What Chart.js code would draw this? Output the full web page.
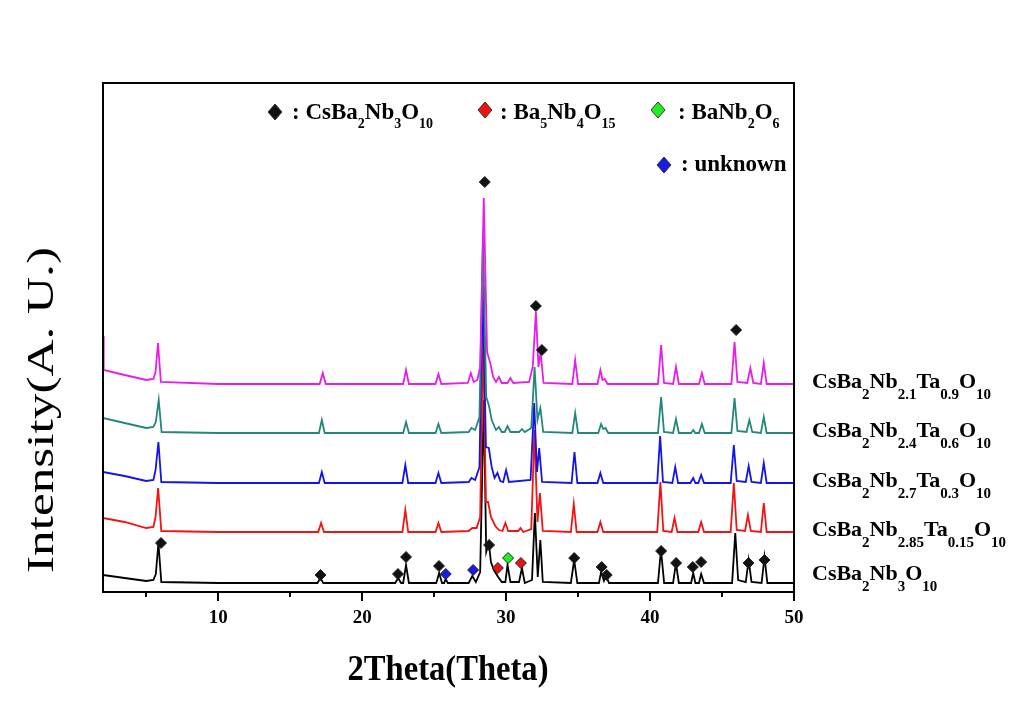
<!DOCTYPE html>
<html>
<head>
<meta charset="utf-8">
<script src="https://cdn.jsdelivr.net/npm/chart.js@4/dist/chart.umd.min.js"></script>
<style>
  html, body { margin: 0; padding: 0; background: #fff; }
</style>
</head>
<body>
<canvas id="xrd" width="1017" height="710"></canvas>
<script>
// Axis range and tick labels (2Theta)
const xMin = 2, xMax = 50;
const xMajorTicks = [10, 20, 30, 40, 50];
const xMinorTicks = [5, 15, 25, 35, 45];

// Samples, top to bottom, with vertical offsets (a.u.)
const sampleNames = [
  'CsBa{2}Nb{2.1}Ta{0.9}O{10}',
  'CsBa{2}Nb{2.4}Ta{0.6}O{10}',
  'CsBa{2}Nb{2.7}Ta{0.3}O{10}',
  'CsBa{2}Nb{2.85}Ta{0.15}O{10}',
  'CsBa{2}Nb{3}O{10}'
];
const sampleColors = ['#e61ee6', '#23877a', '#1414e6', '#f01414', '#000000'];
const sampleOffsets = [200, 150, 100, 50, 0];

// Patterns: [2theta, intensity]
const patternTa09 = [[2,56],[2.05,22],[3.5,17],[5,12],[5.5,13],[5.65,20],[5.82,49],[6.02,10],[10,8],[17.05,8],[17.27,19],[17.47,8],[22.85,8],[23.05,22],[23.25,8],[25.1,8],[25.3,18],[25.5,8],[27.35,9],[27.55,19],[27.75,10],[28,12],[28.2,25],[28.45,194],[28.68,40],[28.9,29],[29.1,15],[29.3,10],[29.5,15],[29.7,9],[30.1,9],[30.3,14],[30.5,9],[31.6,10],[31.85,25],[32.07,80],[32.25,25],[32.4,40],[32.6,9],[34.6,8],[34.8,32],[35,8],[36.35,8],[36.55,22],[36.7,12],[36.85,13],[37.05,8],[40.55,8],[40.77,47],[40.97,9],[41.6,8],[41.8,25],[42,8],[43.4,8],[43.6,19],[43.8,8],[45.65,8],[45.87,50],[46.07,10],[46.75,9],[46.97,24],[47.17,9],[47.7,8],[47.9,29],[48.1,8],[50,8]];
const patternTa06 = [[2,24],[3.5,19],[5,14],[5.5,15],[5.67,20],[5.87,42],[6.07,10],[10,9],[17,9],[17.2,22],[17.4,9],[22.85,9],[23.05,20],[23.25,9],[25.1,9],[25.3,18],[25.5,9],[27.4,10],[27.6,14],[27.85,12],[28.15,25],[28.4,207],[28.62,45],[28.8,37],[29,22],[29.3,12],[29.5,15],[29.7,10],[29.9,10],[30.1,16],[30.3,10],[30.9,10],[31.1,13],[31.3,10],[31.75,14],[31.98,75],[32.18,22],[32.38,34],[32.58,10],[34.6,9],[34.8,29],[35,9],[36.4,9],[36.6,18],[36.75,13],[36.9,14],[37.1,9],[40.55,9],[40.77,45],[40.97,10],[41.6,9],[41.8,23],[42,9],[42.85,9],[43,12],[43.15,9],[43.4,9],[43.6,18],[43.8,9],[45.65,9],[45.87,44],[46.07,11],[46.7,10],[46.9,22],[47.1,10],[47.7,9],[47.9,25],[48.1,9],[50,9]];
const patternTa03 = [[2,20],[3.5,16],[5,11],[5.5,12],[5.65,22],[5.85,50],[6.05,10],[10,9],[17,9],[17.2,20],[17.4,9],[22.8,9],[23,27],[23.2,9],[25.1,9],[25.3,19],[25.5,9],[27.4,10],[27.6,14],[27.85,12],[28.15,25],[28.38,207],[28.6,45],[28.8,44],[29,25],[29.2,14],[29.4,19],[29.6,11],[29.8,10],[30,22],[30.2,10],[31.7,12],[31.95,89],[32.15,20],[32.3,44],[32.5,10],[34.55,9],[34.75,40],[34.95,9],[36.35,9],[36.55,19],[36.75,9],[40.5,9],[40.7,56],[40.9,10],[41.55,9],[41.75,25],[41.95,9],[42.8,9],[43,14],[43.15,9],[43.35,9],[43.55,17],[43.75,9],[45.6,9],[45.82,47],[46.02,11],[46.65,10],[46.85,26],[47.05,10],[47.7,9],[47.9,29],[48.1,9],[50,9]];
const patternTa015 = [[2,24],[3.5,20],[5,14],[5.5,15],[5.65,25],[5.83,54],[6.05,11],[10,10],[16.95,10],[17.15,19],[17.35,10],[22.8,10],[23,32],[23.2,10],[25.1,10],[25.3,19],[25.5,10],[27.4,11],[27.65,14],[27.95,14],[28.2,25],[28.4,207],[28.6,40],[28.75,40],[28.95,25],[29.25,16],[29.5,12],[29.75,11],[29.95,19],[30.15,11],[30.85,11],[31,14],[31.2,10],[31.75,13],[31.97,112],[32.18,20],[32.35,49],[32.55,11],[34.5,10],[34.7,38],[34.9,10],[36.35,10],[36.55,20],[36.75,10],[40.5,10],[40.72,60],[40.92,11],[41.5,10],[41.7,24],[41.9,10],[43.35,10],[43.55,20],[43.75,10],[45.6,10],[45.82,59],[46.02,12],[46.6,11],[46.8,27],[47,11],[47.7,10],[47.9,39],[48.1,10],[50,10]];
const patternNb3 = [[2,17],[3.5,14],[5,11],[5.5,12],[5.67,18],[5.85,49],[6.05,10],[10,9],[16.9,9],[17.1,14],[17.3,9],[22.3,9],[22.5,14],[22.7,9],[22.85,9],[23.05,27],[23.25,9],[25.15,9],[25.35,19],[25.55,9],[25.7,9],[25.8,13],[25.95,9],[27.4,9],[27.65,16],[27.9,10],[28.2,20],[28.45,192],[28.62,40],[28.8,49],[28.95,30],[29.15,22],[29.45,15],[29.7,10],[29.95,10],[30.1,27],[30.3,10],[30.9,10],[31.1,24],[31.3,9],[31.8,12],[32,79],[32.2,15],[32.38,52],[32.55,10],[34.5,9],[34.73,32],[34.95,9],[36.45,9],[36.6,20],[36.8,11],[36.95,16],[37.15,9],[40.55,9],[40.76,42],[40.98,9],[41.6,9],[41.8,29],[42,9],[42.85,9],[43,19],[43.15,9],[43.4,9],[43.55,18],[43.75,9],[45.7,9],[45.92,59],[46.12,12],[46.65,10],[46.85,32],[47.05,10],[47.75,9],[47.95,35],[48.15,9],[50,9]];
const patterns = [patternTa09, patternTa06, patternTa03, patternTa015, patternNb3];

// Phase markers [2theta, a.u. on plot]
const phaseNames = ['CsBa{2}Nb{3}O{10}', 'Ba{5}Nb{4}O{15}', 'BaNb{2}O{6}', 'unknown'];
const phaseColors = ['#111111', '#ee1111', '#22ee22', '#1a1ae6'];
const markersCsBa = [[6.03,49],[17.11,17],[22.49,18],[23.05,35],[25.34,26],[28.82,47],[34.73,34],[36.64,25],[36.99,17],[40.77,41],[41.81,29],[42.97,25],[43.55,30],[46.84,29],[47.95,32],[28.52,410],[32.07,286],[32.49,242],[45.98,262]];
const markersBa5 = [[29.43,24],[31.03,29]];
const markersBaNb2 = [[30.14,34]];
const markersUnknown = [[25.81,18],[27.71,22]];
const phaseMarkers = [markersCsBa, markersBa5, markersBaNb2, markersUnknown];

const serif = '"Liberation Serif", "Times New Roman", serif';

// draw text with {subscript} parts
function drawRich(ctx, str, x, y, size, subSize, drop) {
  const parts = str.split(/(\{[^}]*\})/).filter(s => s.length);
  for (const p of parts) {
    const sub = p[0] === '{';
    const t = sub ? p.slice(1, -1) : p;
    ctx.font = 'bold ' + (sub ? subSize : size) + 'px ' + serif;
    ctx.fillText(t, x, sub ? y + drop : y);
    x += ctx.measureText(t).width;
  }
  return x;
}

function diamond(ctx, cx, cy, hw, hh, fill) {
  ctx.beginPath();
  ctx.moveTo(cx, cy - hh);
  ctx.lineTo(cx + hw, cy);
  ctx.lineTo(cx, cy + hh);
  ctx.lineTo(cx - hw, cy);
  ctx.closePath();
  ctx.fillStyle = fill;
  ctx.fill();
  ctx.strokeStyle = '#333';
  ctx.lineWidth = 1;
  ctx.stroke();
}

function fitText(ctx, text, font, width) {
  ctx.font = font;
  return width / ctx.measureText(text).width;
}

const decor = {
  id: 'decor',
  afterDraw(chart) {
    const { ctx, chartArea: a, scales: { x, y } } = chart;
    ctx.save();
    // frame
    ctx.strokeStyle = '#000';
    ctx.lineWidth = 2;
    ctx.strokeRect(a.left, a.top, a.right - a.left, a.bottom - a.top);
    // ticks
    xMajorTicks.forEach(v => {
      const px = Math.round(x.getPixelForValue(v));
      ctx.beginPath(); ctx.moveTo(px, a.bottom); ctx.lineTo(px, a.bottom + 9); ctx.stroke();
    });
    xMinorTicks.forEach(v => {
      const px = Math.round(x.getPixelForValue(v));
      ctx.beginPath(); ctx.moveTo(px, a.bottom); ctx.lineTo(px, a.bottom + 5); ctx.stroke();
    });

    ctx.fillStyle = '#000';
    ctx.textBaseline = 'alphabetic';
    ctx.textAlign = 'left';

    // legend
    const legendPos = [[275, 112, 292, 119], [485, 110, 500, 119], [658, 110, 678, 119], [664, 165, 681, 171]];
    phaseNames.forEach((name, i) => {
      const [dx, dy, tx, ty] = legendPos[i];
      diamond(ctx, dx, dy, 7, 8, phaseColors[i]);
      ctx.fillStyle = '#000';
      drawRich(ctx, ': ' + name, tx, ty, 23, 14, 9);
    });

    // sample labels
    sampleNames.forEach((name, i) => {
      const base = y.getPixelForValue(sampleOffsets[i] + patterns[i][patterns[i].length - 1][1]);
      ctx.fillStyle = '#000';
      drawRich(ctx, name, a.right + 18, Math.min(base + 4, 580), 22, 15, 11);
    });

    // axis titles
    ctx.textAlign = 'center';
    const xt = '2Theta(Theta)';
    const xf = 'bold 36px ' + serif;
    const sx = fitText(ctx, xt, xf, 201);
    ctx.save();
    ctx.translate(448, 680);
    ctx.scale(sx, 1);
    ctx.font = xf;
    ctx.fillText(xt, 0, 0);
    ctx.restore();

    const yt = 'Intensity(A. U.)';
    const yf = '37px ' + serif;
    const sy = fitText(ctx, yt, yf, 326);
    ctx.save();
    ctx.translate(53, 410);
    ctx.rotate(-Math.PI / 2);
    ctx.scale(sy, 1);
    ctx.font = yf;
    ctx.fillText(yt, 0, 0);
    ctx.restore();

    ctx.restore();
  }
};

const datasets = [];
phaseMarkers.forEach((pts, i) => {
  datasets.push({
    data: pts.map(p => ({ x: p[0], y: p[1] })),
    showLine: false,
    pointStyle: 'rectRot',
    pointRadius: 5.5,
    backgroundColor: phaseColors[i],
    borderColor: '#222',
    borderWidth: 1,
    order: 0
  });
});
patterns.forEach((pat, i) => {
  datasets.push({
    data: pat.map(p => ({ x: p[0], y: p[1] + sampleOffsets[i] })),
    borderColor: sampleColors[i],
    borderWidth: 1.8,
    pointRadius: 0,
    tension: 0,
    fill: false,
    order: i + 1
  });
});

window.onload = function () {
  const ctx = document.getElementById('xrd').getContext('2d');
  new Chart(ctx, {
    type: 'line',
    data: { datasets },
    plugins: [decor],
    options: {
      responsive: false,
      animation: false,
      devicePixelRatio: 1,
      layout: { padding: { top: 83, right: 223, left: 0, bottom: 0 } },
      plugins: { legend: { display: false }, tooltip: { enabled: false } },
      scales: {
        x: {
          type: 'linear',
          min: xMin,
          max: xMax,
          grid: { display: false, drawTicks: false },
          border: { display: false },
          afterBuildTicks: s => { s.ticks = xMajorTicks.map(v => ({ value: v })); },
          afterFit: s => { s.height = 118; },
          ticks: {
            color: '#000',
            padding: 15,
            maxRotation: 0,
            font: { family: serif, size: 19, weight: 'bold' },
            callback: v => String(v)
          }
        },
        y: {
          min: 0,
          max: 509,
          grid: { display: false, drawTicks: false },
          border: { display: false },
          ticks: { display: false },
          afterFit: s => { s.width = 103; }
        }
      }
    }
  });
};
</script>
</body>
</html>
